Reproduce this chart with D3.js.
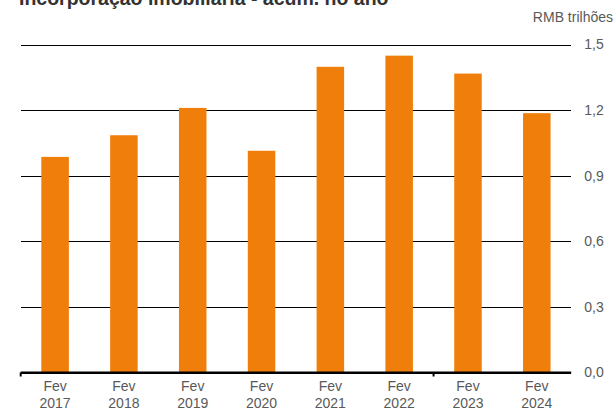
<html>

<head>
    <style>
        body { margin: 0; background: #fff; }
        text { font-family: "Liberation Sans", Arial, sans-serif; }
    </style>
</head>

<body>
    <svg id="chart"></svg>
</body>
<script src="https://cdnjs.cloudflare.com/ajax/libs/d3/7.8.5/d3.min.js"></script>
<script>
    // data
    const months = ["Fev", "Fev", "Fev", "Fev", "Fev", "Fev", "Fev", "Fev"];
    const years = ["2017", "2018", "2019", "2020", "2021", "2022", "2023", "2024"];
    const values = [0.986, 1.085, 1.210, 1.014, 1.398, 1.449, 1.367, 1.186];
    const yTicks = [0, 0.3, 0.6, 0.9, 1.2, 1.5];
    const dividerYears = ["2017", "2023"];

    const width = 614,
        height = 411;

    const svg = d3.select('#chart')
        .attr('width', width)
        .attr('height', height);

    const x = d3.scaleBand()
        .domain(years)
        .range([20.7, 571.2])
        .paddingInner(0.6)
        .paddingOuter(0.3);

    const y = d3.scaleLinear()
        .domain([0, 1.5])
        .range([372.5, 44.5]);

    const fmt = d => d3.format('.1f')(d).replace('.', ',');

    // title (cut off at the top in the original)
    svg.append('text')
        .attr('x', 19)
        .attr('y', 5)
        .attr('font-size', 19.5)
        .attr('font-weight', 'bold')
        .attr('fill', '#333')
        .text('Incorporação imobiliária - acum. no ano');

    svg.append('text')
        .attr('x', 613)
        .attr('y', 22)
        .attr('text-anchor', 'end')
        .attr('font-size', 14)
        .attr('fill', '#595959')
        .text('RMB trilhões');

    // gridlines + right labels
    const yAxis = d3.axisRight(y)
        .tickValues(yTicks)
        .tickFormat(fmt)
        .tickSize(-(x.range()[1] - x.range()[0]))
        .tickPadding(13);

    const gy = svg.append('g')
        .attr('transform', `translate(${x.range()[1]},0)`)
        .call(yAxis);
    gy.select('.domain').remove();
    gy.selectAll('line').attr('stroke', '#000').attr('stroke-width', 1)
        .attr('shape-rendering', 'crispEdges');
    gy.selectAll('text')
        .attr('font-size', 14)
        .attr('fill', '#595959')
        .attr('font-family', '"Liberation Sans", Arial, sans-serif');

    // bars
    svg.append('g')
        .selectAll('rect')
        .data(values)
        .enter().append('rect')
        .attr('x', (d, i) => x(years[i]))
        .attr('y', d => y(d))
        .attr('width', x.bandwidth())
        .attr('height', d => y(0) - y(d))
        .attr('fill', '#EF7F0A');

    // baseline
    svg.append('line')
        .attr('x1', x.range()[0])
        .attr('x2', x.range()[1])
        .attr('y1', y(0))
        .attr('y2', y(0))
        .attr('stroke', '#000')
        .attr('stroke-width', 2);

    // small divider ticks
    const step = x.step();
    svg.append('g')
        .selectAll('line')
        .data(dividerYears)
        .enter().append('line')
        .attr('x1', d => x(d) - step * x.paddingInner() / 2)
        .attr('x2', d => x(d) - step * x.paddingInner() / 2)
        .attr('y1', y(0))
        .attr('y2', y(0) + 4)
        .attr('stroke', '#000')
        .attr('stroke-width', 2);

    // category labels
    const lab = svg.append('g')
        .selectAll('text')
        .data(years)
        .enter().append('text')
        .attr('text-anchor', 'middle')
        .attr('font-size', 14)
        .attr('fill', '#595959')
        .attr('x', d => x(d) + x.bandwidth() / 2);
    lab.append('tspan')
        .attr('x', d => x(d) + x.bandwidth() / 2)
        .attr('y', 391)
        .text((d, i) => months[i]);
    lab.append('tspan')
        .attr('x', d => x(d) + x.bandwidth() / 2)
        .attr('y', 407.5)
        .text(d => d);
</script>

</html>
